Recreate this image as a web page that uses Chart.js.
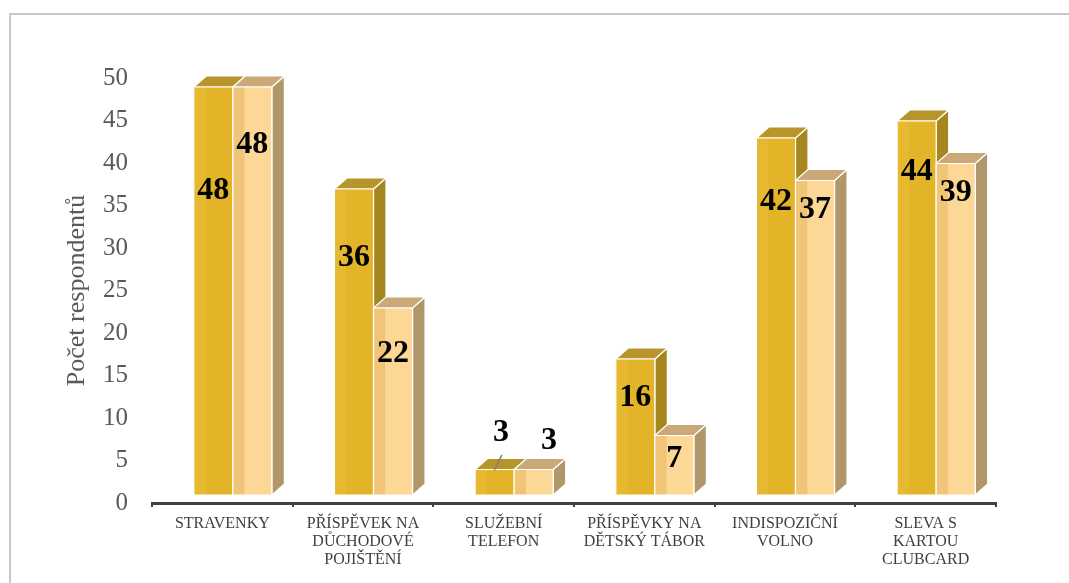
<!DOCTYPE html>
<html lang="cs">
<head>
<meta charset="utf-8">
<title>Benefity – počet respondentů</title>
<script src="https://cdn.jsdelivr.net/npm/chart.js@4.4.1/dist/chart.umd.min.js"></script>
<style>
  html, body { margin: 0; padding: 0; background: #fff; }
  canvas { display: block; }
</style>
</head>
<body>
<canvas id="benefityChart" width="1069" height="583"></canvas>
<script>
// Kategorie benefitů (popisky osy X po řádcích)
const kategorie = [
  ['STRAVENKY'],
  ['PŘÍSPĚVEK NA', 'DŮCHODOVÉ', 'POJIŠTĚNÍ'],
  ['SLUŽEBNÍ', 'TELEFON'],
  ['PŘÍSPĚVKY NA', 'DĚTSKÝ TÁBOR'],
  ['INDISPOZIČNÍ', 'VOLNO'],
  ['SLEVA S', 'KARTOU', 'CLUBCARD']
];

// Počty respondentů pro obě skupiny
const skupina1 = [48, 36, 3, 16, 42, 44];
const skupina2 = [48, 22, 3, 7, 37, 39];

// Rozsah osy Y
const osaMin = 0;
const osaMax = 50;
const osaKrok = 5;

// Kde leží popisky hodnot (v jednotkách osy Y)
const popisek1 = [35.8, 27.9, 7.3, 11.5, 34.5, 38.0];
const popisek2 = [41.2, 16.6, 6.4, 4.3, 33.6, 35.6];

const pismo = '"Liberation Serif", "Times New Roman", serif';
Chart.defaults.font.family = pismo;

// Hloubka kvádru a jeho odsazení od přední hrany podlahy
const hloubka = { dx: 12.5, dy: 11 };
const posun = { x: 10.5, y: 8 };

const barvy = [
  { front: '#E3B428', strip: '#E6B930', top: '#B7952B', side: '#A5861F' },
  { front: '#FCD796', strip: '#F1C578', top: '#CBA877', side: '#B09769' }
];

// Vykreslí jeden sloupec jako kvádr (bočnice, vršek, čelo)
function kvadr(ctx, x0, x1, yTop, yBot, c) {
  const { dx, dy } = hloubka;
  ctx.save();
  ctx.strokeStyle = '#FFFFFF';
  ctx.lineWidth = 1.2;
  ctx.lineJoin = 'round';

  ctx.beginPath();
  ctx.moveTo(x1, yTop);
  ctx.lineTo(x1 + dx, yTop - dy);
  ctx.lineTo(x1 + dx, yBot - dy);
  ctx.lineTo(x1, yBot);
  ctx.closePath();
  ctx.fillStyle = c.side;
  ctx.fill();
  ctx.stroke();

  ctx.beginPath();
  ctx.moveTo(x0, yTop);
  ctx.lineTo(x0 + dx, yTop - dy);
  ctx.lineTo(x1 + dx, yTop - dy);
  ctx.lineTo(x1, yTop);
  ctx.closePath();
  ctx.fillStyle = c.top;
  ctx.fill();
  ctx.stroke();

  ctx.fillStyle = c.front;
  ctx.fillRect(x0, yTop, x1 - x0, yBot - yTop);
  ctx.fillStyle = c.strip;
  ctx.fillRect(x0, yTop, (x1 - x0) * 0.3, yBot - yTop);
  ctx.strokeRect(x0, yTop, x1 - x0, yBot - yTop);
  ctx.restore();
}

// Šedý rámeček kolem grafu
const ramecek = {
  id: 'ramecek',
  beforeDraw(chart) {
    const ctx = chart.ctx;
    ctx.save();
    ctx.fillStyle = '#FFFFFF';
    ctx.fillRect(0, 0, chart.width, chart.height);
    ctx.fillStyle = '#C8C8C8';
    ctx.fillRect(9, 13, chart.width - 9, 2);
    ctx.fillRect(9, 13, 2, chart.height - 13);
    ctx.restore();
  }
};

// Sloupce jako 3D kvádry místo běžných obdélníků
const sloupce3d = {
  id: 'sloupce3d',
  beforeDatasetsDraw(chart) {
    const ctx = chart.ctx;
    const metas = [chart.getDatasetMeta(0), chart.getDatasetMeta(1)];
    for (let i = 0; i < kategorie.length; i++) {
      metas.forEach((meta, d) => {
        const { x, y, base, width } = meta.data[i].getProps(['x', 'y', 'base', 'width'], true);
        kvadr(ctx, x - width / 2 + posun.x, x + width / 2 + posun.x,
          y - posun.y, base - posun.y, barvy[d]);
      });
    }
    return false;
  },
  afterDraw(chart) {
    const ctx = chart.ctx;
    const yScale = chart.scales.y;
    ctx.save();
    ctx.font = 'bold 32px ' + pismo;
    ctx.fillStyle = '#000000';
    ctx.textAlign = 'center';
    ctx.textBaseline = 'middle';
    [[skupina1, popisek1], [skupina2, popisek2]].forEach(([hodnoty, vysky], d) => {
      const meta = chart.getDatasetMeta(d);
      hodnoty.forEach((v, i) => {
        const { x, y } = meta.data[i].getProps(['x', 'y'], true);
        const stred = x + posun.x;
        const vrch = y - posun.y;
        let lx = stred;
        const ly = yScale.getPixelForValue(vysky[i]) - posun.y;
        if (ly < vrch) {
          // popisek nad nízkým sloupcem
          lx = stred + hloubka.dx / 2 + d * 9;
          if (vrch - ly > 30) {
            ctx.save();
            ctx.strokeStyle = '#7F7F7F';
            ctx.lineWidth = 1.5;
            ctx.beginPath();
            ctx.moveTo(stred - 0.5, vrch + 1);
            ctx.lineTo(lx + 1, ly + 22);
            ctx.stroke();
            ctx.restore();
          }
        }
        ctx.fillText(String(v), lx, ly);
      });
    });
    ctx.restore();
  }
};

new Chart(document.getElementById('benefityChart'), {
  type: 'bar',
  data: {
    labels: kategorie,
    datasets: [
      { label: 'Skupina 1', data: skupina1, backgroundColor: barvy[0].front },
      { label: 'Skupina 2', data: skupina2, backgroundColor: barvy[1].front }
    ]
  },
  options: {
    responsive: false,
    devicePixelRatio: 1,
    animation: false,
    datasets: {
      bar: { categoryPercentage: 0.555, barPercentage: 1 }
    },
    layout: { padding: { left: 52, top: 78, right: 73, bottom: 0 } },
    plugins: {
      legend: { display: false },
      tooltip: { enabled: false }
    },
    scales: {
      x: {
        grid: {
          offset: true,
          drawOnChartArea: false,
          drawTicks: true,
          tickLength: 4,
          color: '#404040',
          lineWidth: 2
        },
        border: { display: true, color: '#404040', width: 3 },
        ticks: {
          color: '#404040',
          font: { size: 16, lineHeight: 1.12 },
          padding: 8,
          maxRotation: 0,
          autoSkip: false
        },
        afterFit(scale) { scale.height = 80; }
      },
      y: {
        min: osaMin,
        max: osaMax,
        ticks: {
          stepSize: osaKrok,
          color: '#595959',
          font: { size: 25 },
          padding: 24
        },
        grid: { display: false, drawTicks: false },
        border: { display: false },
        title: {
          display: true,
          text: 'Počet respondentů',
          color: '#595959',
          font: { size: 26, lineHeight: 1.2 },
          padding: { top: 10, bottom: 0 }
        },
        afterFit(scale) { scale.width = 100; }
      }
    }
  },
  plugins: [ramecek, sloupce3d]
});
</script>
</body>
</html>
